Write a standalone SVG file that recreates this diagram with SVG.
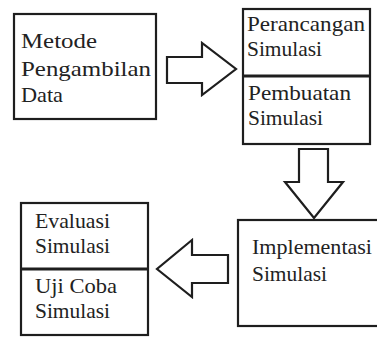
<svg xmlns="http://www.w3.org/2000/svg" width="377" height="338" viewBox="0 0 377 338">
<style>
.box{fill:#fff;stroke:#1e1e1e;stroke-width:2.2}
.div{stroke:#1e1e1e;stroke-width:3}
.arr{fill:#fff;stroke:#1e1e1e;stroke-width:2.2;stroke-linejoin:miter}
.t{font-family:'Liberation Serif','Times New Roman',serif;font-size:22px;fill:#222}
</style>
<rect width="377" height="338" fill="#fff"/>
<g id="connectors">
<polygon class="arr" points="167,57 202,57 202,43 236,69 202,95 202,83 167,83"/>
<polygon class="arr" points="299,149 328,149 328,182 343,182 314,218 285,182 299,182"/>
<polygon class="arr" points="228,255 192,255 192,240 157,269 192,297 192,283 228,283"/>
</g>
<g id="metode" class="t">
<rect class="box" x="14" y="14" width="142" height="105"/>
<text x="21" y="48" textLength="76" lengthAdjust="spacingAndGlyphs">Metode</text>
<text x="21" y="76" textLength="130" lengthAdjust="spacingAndGlyphs">Pengambilan</text>
<text x="21" y="102" textLength="42" lengthAdjust="spacingAndGlyphs">Data</text>
</g>
<g id="perancangan" class="t">
<rect class="box" x="243" y="9" width="127" height="135"/>
<line class="div" x1="243" y1="76" x2="370" y2="76"/>
<text x="247" y="31" textLength="118" lengthAdjust="spacingAndGlyphs">Perancangan</text>
<text x="247" y="56" textLength="75" lengthAdjust="spacingAndGlyphs">Simulasi</text>
<text x="248" y="100" textLength="103" lengthAdjust="spacingAndGlyphs">Pembuatan</text>
<text x="248" y="125" textLength="75" lengthAdjust="spacingAndGlyphs">Simulasi</text>
</g>
<g id="implementasi" class="t">
<rect class="box" x="238" y="220" width="145" height="106"/>
<text x="252" y="254" textLength="120" lengthAdjust="spacingAndGlyphs">Implementasi</text>
<text x="252" y="281" textLength="75" lengthAdjust="spacingAndGlyphs">Simulasi</text>
</g>
<g id="evaluasi" class="t">
<rect class="box" x="21" y="203" width="127" height="132"/>
<line class="div" x1="21" y1="269" x2="148" y2="269"/>
<text x="35" y="228" textLength="75" lengthAdjust="spacingAndGlyphs">Evaluasi</text>
<text x="35" y="253" textLength="75" lengthAdjust="spacingAndGlyphs">Simulasi</text>
<text x="35" y="293" textLength="82" lengthAdjust="spacingAndGlyphs">Uji Coba</text>
<text x="35" y="318" textLength="75" lengthAdjust="spacingAndGlyphs">Simulasi</text>
</g>
</svg>
